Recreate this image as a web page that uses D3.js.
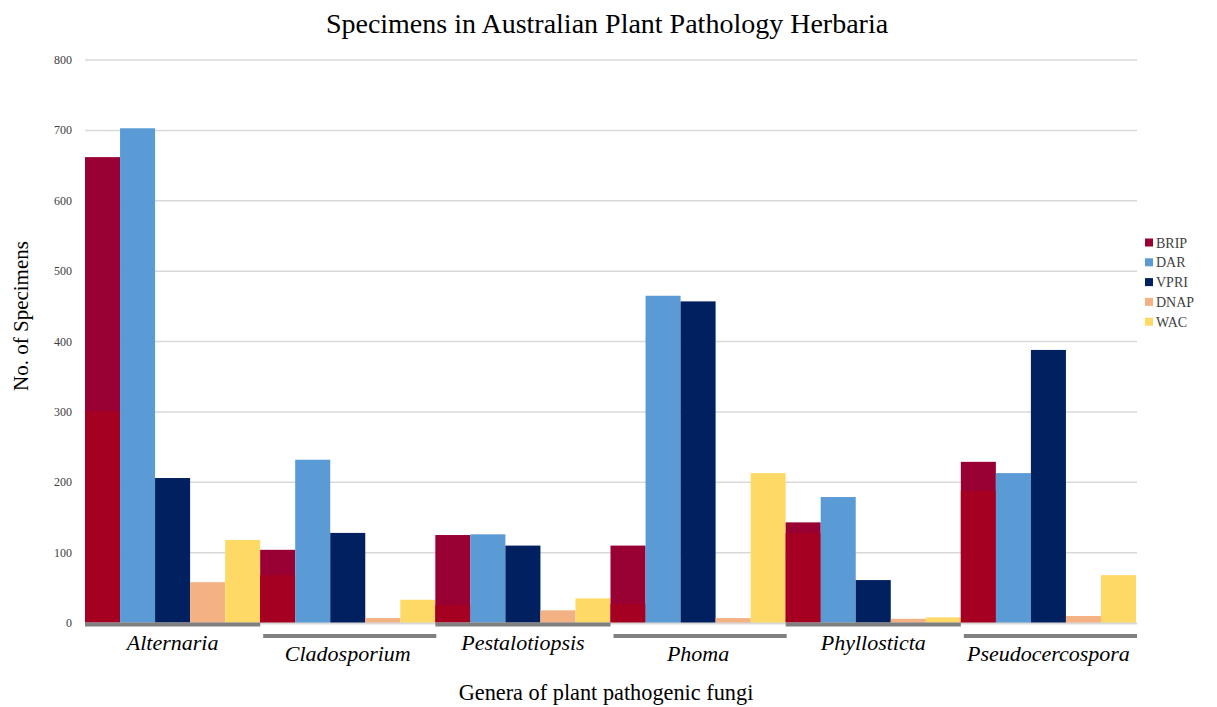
<!DOCTYPE html>
<html><head><meta charset="utf-8">
<script src="https://cdn.jsdelivr.net/npm/d3@7/dist/d3.min.js"></script>
<style>body{margin:0;background:#fff}svg{display:block}</style>
</head><body>
<svg id="c" width="1217" height="707"></svg>
<script>
const categories = ["Alternaria","Cladosporium","Pestalotiopsis","Phoma","Phyllosticta","Pseudocercospora"];
const seriesNames = ["BRIP","DAR","VPRI","DNAP","WAC"];
const BRIP = [662,104,125,110,143,229];
const BRIP_lower = [301,68,26,27,128,188];
const DAR = [703,232,126,465,179,213];
const VPRI = [206,128,110,457,61,388];
const DNAP = [58,7,18,7,6,10];
const WAC = [118,33,35,213,8,68];
const yTicks = [0,100,200,300,400,500,600,700,800];
const colors = {BRIP:"#990033",DAR:"#5B9BD5",VPRI:"#002060",DNAP:"#F4B183",WAC:"#FFD966"};
const lowerColor = "#A50021";
const seriesVals = {BRIP,DAR,VPRI,DNAP,WAC};

const svg = d3.select("#c");
const L=85,R=1136,T=60,B=623;
const y = d3.scaleLinear().domain([0,800]).range([B,T]);
const x0 = d3.scaleBand().domain(categories).range([L,R]).padding(0);
const x1 = d3.scaleBand().domain(seriesNames).range([0,x0.bandwidth()]).padding(0);

// grid
svg.append("g").selectAll("line").data(yTicks).join("line")
  .attr("x1",L).attr("x2",R+1).attr("y1",d=>y(d)).attr("y2",d=>y(d))
  .attr("stroke","#d9d9d9").attr("stroke-width",1.5);
svg.append("g").selectAll("text").data(yTicks).join("text")
  .attr("x",72).attr("y",d=>y(d)+4).attr("text-anchor","end")
  .attr("font-family","Liberation Serif").attr("font-size",12).attr("fill","#404040")
  .text(d=>d);

// bars
const g = svg.append("g");
categories.forEach((c,i)=>{
  seriesNames.forEach(s=>{
    const v = seriesVals[s][i];
    g.append("rect").attr("x",x0(c)+x1(s)).attr("width",x1.bandwidth())
      .attr("y",y(v)).attr("height",y(0)-y(v)).attr("fill",colors[s]);
    if(s==="BRIP"){
      const lv = BRIP_lower[i];
      g.append("rect").attr("x",x0(c)+x1(s)).attr("width",x1.bandwidth())
        .attr("y",y(lv)).attr("height",y(0)-y(lv)).attr("fill",lowerColor);
    }
  });
});

// baseline
svg.append("line").attr("x1",L).attr("x2",R+1).attr("y1",B+0.5).attr("y2",B+0.5)
  .attr("stroke","#d9d9d9").attr("stroke-width",2);

// category underlines and labels (alternating)
categories.forEach((c,i)=>{
  const odd = i%2===1;
  const uy = odd ? 634 : 622.5;
  svg.append("rect").attr("x",x0(c)+(odd?3:0)).attr("width",x0.bandwidth()-(odd?2:0))
    .attr("y",uy).attr("height",4).attr("fill","#808080");
  svg.append("text").attr("x",x0(c)+x0.bandwidth()/2).attr("y",odd?661:650)
    .attr("text-anchor","middle").attr("font-family","Liberation Serif")
    .attr("font-style","italic").attr("font-size",22).attr("fill","#000").text(c);
});

// titles
svg.append("text").attr("x",607).attr("y",33).attr("text-anchor","middle")
  .attr("font-family","Liberation Serif").attr("font-size",28).attr("fill","#000")
  .text("Specimens in Australian Plant Pathology Herbaria");
svg.append("text").attr("transform","translate(28,316) rotate(-90)").attr("text-anchor","middle")
  .attr("font-family","Liberation Serif").attr("font-size",21).attr("fill","#000")
  .text("No. of Specimens");
svg.append("text").attr("x",606).attr("y",700).attr("text-anchor","middle")
  .attr("font-family","Liberation Serif").attr("font-size",22.3).attr("fill","#000")
  .text("Genera of plant pathogenic fungi");

// legend
const lg = svg.append("g");
seriesNames.forEach((s,i)=>{
  const ly = 243 + i*19.8;
  lg.append("rect").attr("x",1145).attr("y",ly-4.5).attr("width",8).attr("height",8).attr("fill",colors[s]);
  lg.append("text").attr("x",1156).attr("y",ly+4.5).attr("font-family","Liberation Serif")
    .attr("font-size",14).attr("fill","#404040").text(s);
});
</script>
</body></html>
